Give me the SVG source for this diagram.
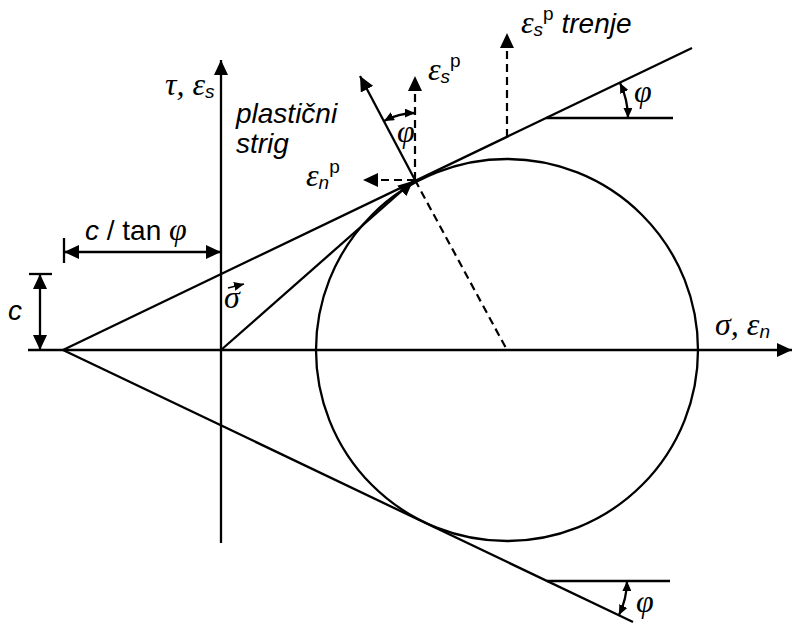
<svg xmlns="http://www.w3.org/2000/svg" width="792" height="624" viewBox="0 0 792 624">
<defs>
<marker id="ah" viewBox="0 0 15 14" refX="15" refY="7" markerWidth="15" markerHeight="14" markerUnits="userSpaceOnUse" orient="auto-start-reverse"><path d="M0,0 L15,7 L0,14 z" fill="#000"/></marker>
<marker id="sm" viewBox="0 0 10 9" refX="10" refY="4.5" markerWidth="10" markerHeight="9" markerUnits="userSpaceOnUse" orient="auto-start-reverse"><path d="M0,0 L10,4.5 L0,9 z" fill="#000"/></marker>
<style>
.ln{stroke:#000;stroke-width:2.3;fill:none}
.dash{stroke:#000;stroke-width:2.2;fill:none;stroke-dasharray:8 5}
.g{font-family:"Liberation Serif","DejaVu Serif",serif;font-style:italic;font-size:32px;fill:#000}
.t{font-family:"Liberation Sans",Arial,sans-serif;font-style:italic;font-size:28px;fill:#000}
.r{font-family:"Liberation Sans",Arial,sans-serif;font-style:normal;font-size:28px;fill:#000}
.sub{font-family:"Liberation Sans",Arial,sans-serif;font-style:italic;font-size:19px}
.sup{font-family:"Liberation Sans",Arial,sans-serif;font-style:normal;font-size:19px}
</style>
</defs>
<rect width="792" height="624" fill="#fff"/>
<g id="connectors">
<line class="ln" x1="28" y1="350" x2="792" y2="350" marker-end="url(#ah)"/>
<line class="ln" x1="221" y1="543" x2="221" y2="60" marker-end="url(#ah)"/>
<line class="ln" x1="63" y1="350" x2="692" y2="48"/>
<line class="ln" x1="63" y1="350" x2="633" y2="622"/>
<line class="ln" x1="221" y1="350" x2="413" y2="181" marker-end="url(#ah)"/>
<line class="ln" x1="415" y1="180" x2="360" y2="76" marker-end="url(#ah)"/>
<line class="dash" x1="415" y1="180" x2="415" y2="76" marker-end="url(#ah)"/>
<line class="dash" x1="415" y1="180" x2="363" y2="180" marker-end="url(#ah)"/>
<line class="dash" x1="415" y1="180" x2="507" y2="350"/>
<line class="dash" x1="507" y1="137" x2="507" y2="33" marker-end="url(#ah)"/>
<line class="ln" x1="546" y1="118" x2="673" y2="118"/>
<line class="ln" x1="547" y1="581" x2="670" y2="581"/>
<path class="ln" d="M620,83 A82,82 0 0 1 628,118" marker-start="url(#sm)" marker-end="url(#sm)"/>
<path class="ln" d="M627,581 A80,80 0 0 1 619,615" marker-start="url(#sm)" marker-end="url(#sm)"/>
<path class="ln" d="M415,113 A67,67 0 0 0 384,121" marker-start="url(#sm)" marker-end="url(#sm)"/>
<line class="ln" x1="29" y1="274" x2="52" y2="274"/>
<line class="ln" x1="40" y1="274" x2="40" y2="350" marker-start="url(#ah)" marker-end="url(#ah)"/>
<line class="ln" x1="64" y1="238" x2="64" y2="263"/>
<line class="ln" x1="64" y1="252" x2="221" y2="252" marker-start="url(#ah)" marker-end="url(#ah)"/>
<line x1="228" y1="288" x2="244" y2="284" stroke="#000" stroke-width="1.6" marker-end="url(#sm)"/>
</g>
<g id="circle"><circle class="ln" cx="507" cy="350" r="191"/></g>
<g id="labels">
<text class="g" x="165" y="95">τ, ε<tspan class="sub" dy="3">s</tspan></text>
<text class="t" x="236" y="123">plastični</text>
<text class="t" x="236" y="153">strig</text>
<text class="g" x="306" y="186">ε<tspan class="sub" dy="3">n</tspan><tspan class="sup" dy="-16">p</tspan></text>
<text class="g" x="428" y="80">ε<tspan class="sub" dy="3">s</tspan><tspan class="sup" dy="-16">p</tspan></text>
<text class="g" x="521" y="33">ε<tspan class="sub" dy="3">s</tspan><tspan class="sup" dy="-16">p</tspan><tspan class="t" dy="13"> trenje</tspan></text>
<text class="g" x="715" y="335">σ, ε<tspan class="sub" dy="3">n</tspan></text>
<text class="g" x="397" y="142">φ</text>
<text class="g" x="634" y="102">φ</text>
<text class="g" x="636" y="612">φ</text>
<text class="t" x="8" y="320">c</text>
<text class="r" x="85" y="240"><tspan class="t">c</tspan> / tan <tspan class="g">φ</tspan></text>
<text class="g" x="224" y="308">σ</text>
</g>
</svg>
